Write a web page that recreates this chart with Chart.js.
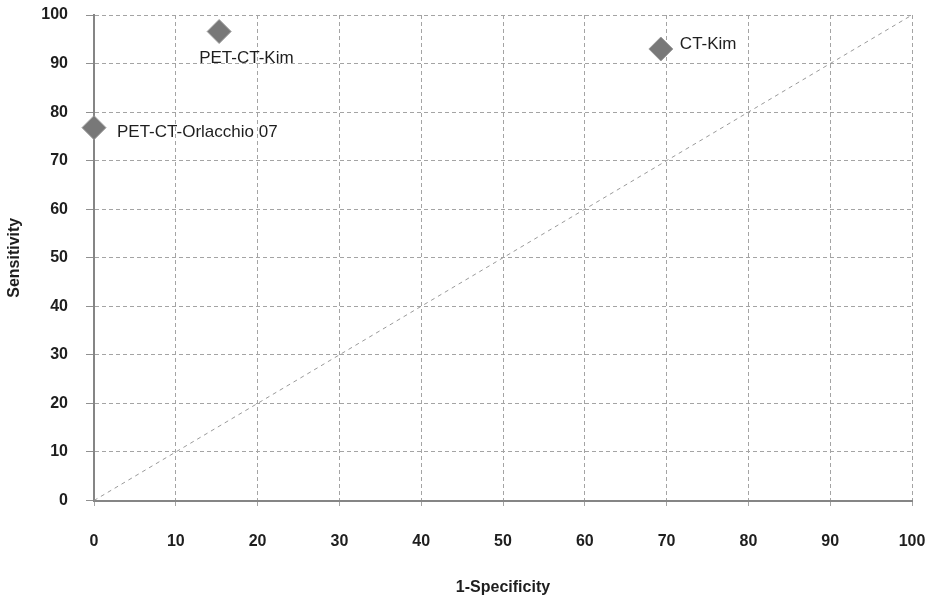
<!DOCTYPE html>
<html>
<head>
<meta charset="utf-8">
<script src="https://cdn.jsdelivr.net/npm/chart.js@4"></script>
<style>
  html, body { margin: 0; padding: 0; background: #fff; }
  #wrap { width: 931px; height: 599px; }
</style>
</head>
<body>
<div id="wrap"><canvas id="roc"></canvas></div>
<script>
// Study points (1-Specificity vs Sensitivity, %)
const studyNames = ["PET-CT-Kim", "CT-Kim", "PET-CT-Orlacchio 07"];
const falsePosRate = [15.3, 69.3, 0];
const sensitivity = [96.6, 93.0, 76.8];

// Reference diagonal
const diagX = [0, 100];
const diagY = [0, 100];

const tickValues = [0, 10, 20, 30, 40, 50, 60, 70, 80, 90, 100];

// label placement relative to the marker (px): dx, baseline dy
const labelOffsets = [[-20, 31], [19, 0], [23, 9]];

const ctx = document.getElementById("roc").getContext("2d");

const pointLabels = {
  id: "pointLabels",
  afterDatasetsDraw(chart) {
    const meta = chart.getDatasetMeta(1);
    const c = chart.ctx;
    c.save();
    c.font = "17px 'Liberation Sans', Arial, sans-serif";
    c.fillStyle = "#1e1e1e";
    c.textAlign = "left";
    c.textBaseline = "alphabetic";
    meta.data.forEach((pt, i) => {
      c.fillText(studyNames[i], pt.x + labelOffsets[i][0], pt.y + labelOffsets[i][1]);
    });
    c.restore();
  }
};

const tickFont = { family: "'Liberation Sans', Arial, sans-serif", size: 16, weight: "bold" };

new Chart(ctx, {
  type: "scatter",
  data: {
    datasets: [
      {
        label: "Diagonal",
        data: diagX.map((x, i) => ({ x: x, y: diagY[i] })),
        showLine: true,
        borderColor: "#9a9a9a",
        borderWidth: 1,
        borderDash: [4, 4],
        pointRadius: 0,
        fill: false
      },
      {
        label: "Studies",
        data: falsePosRate.map((x, i) => ({ x: x, y: sensitivity[i] })),
        clip: false,
        pointStyle: "rectRot",
        pointRadius: 12,
        pointHoverRadius: 12,
        backgroundColor: "#787878",
        borderColor: "#9c9c9c",
        borderWidth: 1
      }
    ]
  },
  options: {
    responsive: true,
    maintainAspectRatio: false,
    animation: false,
    layout: { padding: { left: 0, right: 19, top: 15, bottom: 0 } },
    plugins: {
      legend: { display: false },
      tooltip: { enabled: false }
    },
    scales: {
      x: {
        type: "linear",
        min: 0,
        max: 100,
        afterBuildTicks: axis => { axis.ticks = tickValues.map(v => ({ value: v })); },
        afterFit: axis => {
          axis.height = 98.5;
          axis.paddingLeft = 0;
          axis.paddingRight = 0;
        },
        grid: { color: "#a4a4a4", lineWidth: 1, tickLength: 8, tickColor: "#a4a4a4", tickBorderDash: [4, 4] },
        border: { display: true, color: "#858585", width: 2, dash: [4, 3] },
        ticks: { color: "#1e1e1e", font: tickFont, padding: 23, maxRotation: 0 },
        title: { display: true, text: "1-Specificity", color: "#1e1e1e", font: tickFont, padding: { top: 0, bottom: 2 } }
      },
      y: {
        type: "linear",
        min: 0,
        max: 100,
        afterBuildTicks: axis => { axis.ticks = tickValues.map(v => ({ value: v })); },
        afterFit: axis => {
          axis.width = 94;
          axis.paddingTop = 0;
          axis.paddingBottom = 0;
        },
        grid: { color: "#a4a4a4", lineWidth: 1, tickLength: 8, tickColor: "#909090" },
        border: { display: true, color: "#858585", width: 2, dash: [4, 3] },
        ticks: { color: "#1e1e1e", font: tickFont, padding: 18 },
        title: { display: true, text: "Sensitivity", color: "#1e1e1e", font: tickFont, padding: { top: 5, bottom: 0 } }
      }
    }
  },
  plugins: [pointLabels]
});
</script>
</body>
</html>
